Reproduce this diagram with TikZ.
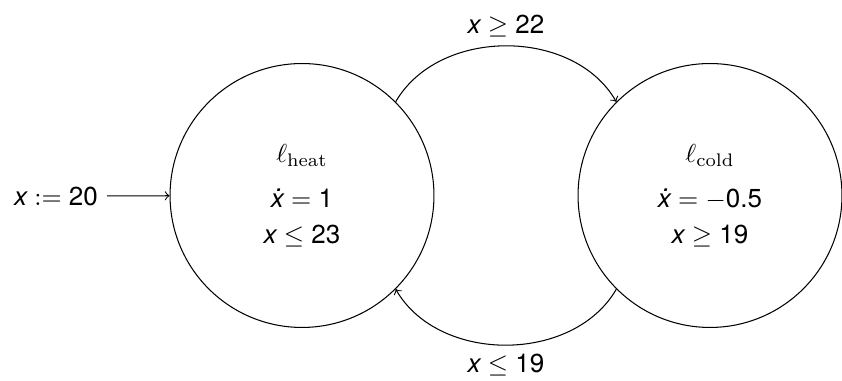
\documentclass[tikz,border=0pt]{standalone}
\usepackage{fontspec}
\newfontfamily\hv{TeX Gyre Heros}
\newcommand\vx{\mbox{\hv\itshape x}}
\newcommand\vxdot{\mbox{\hv\itshape x\llap{\raisebox{0.62em}{.}\kern0.02em}}}
\newcommand\nm[1]{\mbox{\hv #1}}
\begin{document}
\begin{tikzpicture}[x=0.3846pt,y=-0.3846pt,
  state/.style={draw,circle,minimum size=101.5pt,inner sep=0pt,align=center},
  lbl/.style={inner sep=3.333pt}]
\useasboundingbox (0,0) rectangle (842,381);
\node[state] (l) at (302,195.5) {$\ell_{\mathrm{heat}}$\\[5.5pt] $\vxdot = \nm{1}$\\[1.5pt] $\vx \leq \nm{23}$};
\node[state] (r) at (710,195.5) {$\ell_{\mathrm{cold}}$\\[5.5pt] $\vxdot = -\nm{0.5}$\\[1.5pt] $\vx \geq \nm{19}$};
\node[lbl] (init) at (56,196) {$\vx := \nm{20}$};
\draw[->] (init) -- (l);
\draw[->] (l.45) to[out=60,in=120] node[lbl,above] (g1) {$\vx \geq \nm{22}$} (r.135);
\draw[->] (r.-135) to[out=-120,in=-60] node[lbl,below] (g2) {$\vx \leq \nm{19}$} (l.-45);
\end{tikzpicture}
\end{document}
